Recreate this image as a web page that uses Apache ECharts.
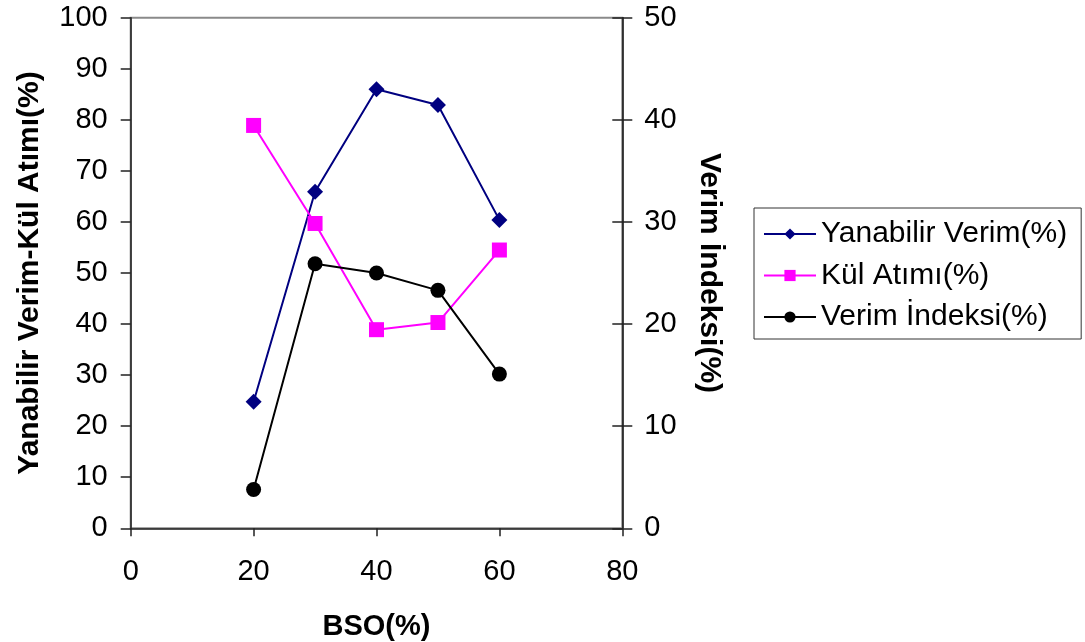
<!DOCTYPE html>
<html>
<head>
<meta charset="utf-8">
<script src="https://cdn.jsdelivr.net/npm/echarts@6/dist/echarts.min.js"></script>
<style>
html,body{margin:0;padding:0;background:#fff;}
#chart{width:1085px;height:642px;}
</style>
</head>
<body>
<div id="chart"></div>
<script>
var bso = [20, 30, 40, 50, 60];
var yanabilirVerim = [24.8, 65.9, 86.0, 82.9, 60.4];
var kulAtimi = [78.9, 59.7, 38.9, 40.3, 54.5];
var verimIndeksi = [3.8, 25.9, 25.0, 23.3, 15.1];
var seriesNames = ['Yanabilir Verim(%)', 'Kül Atımı(%)', 'Verim İndeksi(%)'];
var xTitle = 'BSO(%)';
var yLeftTitle = 'Yanabilir Verim-Kül Atımı(%)';
var yRightTitle = 'Verim İndeksi(%)';

function pairs(xs, ys) { return xs.map(function (x, i) { return [x, ys[i]]; }); }

var FONT = '"Liberation Sans", Arial, sans-serif';
var chart = echarts.init(document.getElementById('chart'));
chart.setOption({
  animation: false,
  backgroundColor: '#fff',
  textStyle: { fontFamily: FONT },
  grid: { left: 130.7, right: 462.7, top: 17.7, bottom: 113.7, containLabel: false, outerBoundsMode: 'none', show: true, borderColor: '#8a8a8a', borderWidth: 2, backgroundColor: 'transparent' },
  legend: {
    orient: 'vertical', left: 754, top: 208,
    padding: [11, 14, 7, 9],
    itemWidth: 52, itemHeight: 14, itemGap: 11.5,
    borderColor: '#333', borderWidth: 1,
    textStyle: { fontSize: 30, color: '#000', fontFamily: FONT, lineHeight: 28 },
    data: seriesNames
  },
  xAxis: {
    type: 'value', min: 0, max: 80, interval: 20,
    name: xTitle, nameLocation: 'middle', nameGap: 84,
    nameTextStyle: { fontSize: 29, fontWeight: 'bold', color: '#000', fontFamily: FONT },
    axisLine: { show: true, lineStyle: { color: '#222', width: 1.5 } },
    axisTick: { show: true, length: 8, lineStyle: { color: '#222', width: 1.5 } },
    axisLabel: { fontSize: 29, color: '#000', margin: 29, fontFamily: FONT },
    splitLine: { show: false }
  },
  yAxis: [
    {
      type: 'value', min: 0, max: 100, interval: 10, position: 'left',
      name: yLeftTitle, nameLocation: 'middle', nameGap: 86, nameRotate: 90,
      nameTextStyle: { fontSize: 30, fontWeight: 'bold', color: '#000', fontFamily: FONT },
      axisLine: { show: true, lineStyle: { color: '#222', width: 1.5 } },
      axisTick: { show: true, length: 10, lineStyle: { color: '#222', width: 1.5 } },
      axisLabel: { fontSize: 29, color: '#000', margin: 23, fontFamily: FONT },
      splitLine: { show: false }
    },
    {
      type: 'value', min: 0, max: 50, interval: 10, position: 'right',
      name: yRightTitle, nameLocation: 'middle', nameGap: 72, nameRotate: -90,
      nameTextStyle: { fontSize: 30, fontWeight: 'bold', color: '#000', fontFamily: FONT },
      axisLine: { show: true, lineStyle: { color: '#111', width: 1.5 } },
      axisTick: { show: true, length: 10, lineStyle: { color: '#222', width: 1.5 } },
      axisLabel: { fontSize: 29, color: '#000', margin: 22, fontFamily: FONT },
      splitLine: { show: false }
    },
    {
      type: 'value', min: 0, max: 50, interval: 10, position: 'right',
      axisLine: { show: false },
      axisTick: { show: true, inside: true, length: 10, lineStyle: { color: '#222', width: 1.5 } },
      axisLabel: { show: false },
      splitLine: { show: false }
    }
  ],
  series: [
    {
      name: seriesNames[0], type: 'line', yAxisIndex: 0,
      data: pairs(bso, yanabilirVerim),
      symbol: 'diamond', symbolSize: 16,
      lineStyle: { color: '#000080', width: 2 },
      itemStyle: { color: '#000080' }
    },
    {
      name: seriesNames[1], type: 'line', yAxisIndex: 0,
      data: pairs(bso, kulAtimi),
      symbol: 'rect', symbolSize: 15,
      lineStyle: { color: '#ff00ff', width: 2 },
      itemStyle: { color: '#ff00ff' }
    },
    {
      name: seriesNames[2], type: 'line', yAxisIndex: 1,
      data: pairs(bso, verimIndeksi),
      symbol: 'circle', symbolSize: 15,
      lineStyle: { color: '#000', width: 2 },
      itemStyle: { color: '#000' }
    }
  ]
});
</script>
</body>
</html>
